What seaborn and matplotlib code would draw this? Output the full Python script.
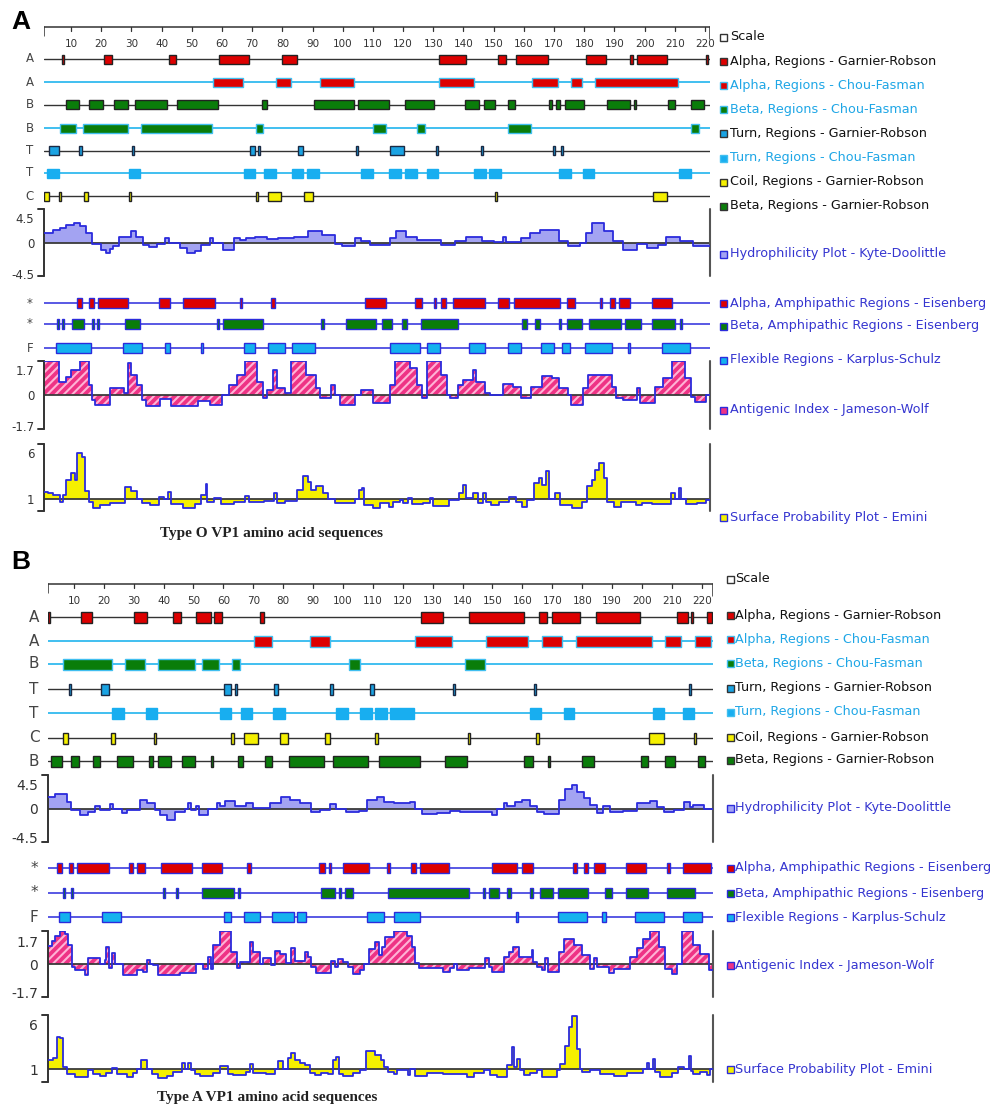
import numpy as np
import matplotlib
matplotlib.use("Agg")
import matplotlib.pyplot as plt
from matplotlib.patches import Rectangle
from matplotlib.transforms import Affine2D
import seaborn as sns

# ---------------- data (residue positions) ----------------
legend_labels = [
    "Scale",
    "Alpha, Regions - Garnier-Robson",
    "Alpha, Regions - Chou-Fasman",
    "Beta, Regions - Chou-Fasman",
    "Turn, Regions - Garnier-Robson",
    "Turn, Regions - Chou-Fasman",
    "Coil, Regions - Garnier-Robson",
    "Beta, Regions - Garnier-Robson",
    "Hydrophilicity Plot - Kyte-Doolittle",
    "Alpha, Amphipathic Regions - Eisenberg",
    "Beta, Amphipathic Regions - Eisenberg",
    "Flexible Regions - Karplus-Schulz",
    "Antigenic Index - Jameson-Wolf",
    "Surface Probability Plot - Emini",
]
a_row_letters = ["A", "A", "B", "B", "T", "T", "C"]
b_row_letters = ["A", "A", "B", "T", "T", "C", "B"]
lower_row_letters = ["*", "*", "F"]
titles = ["Type O VP1 amino acid sequences", "Type A VP1 amino acid sequences"]
scale_ticks = list(range(10, 221, 10))

# panel A (type O)
a_alpha_gr = [(7, 7.8), (21, 23.5), (42.4, 44.7), (59, 69), (80, 85), (132, 140.8), (151.5, 154),
              (157.3, 168.1), (180.5, 187.1), (195.3, 195.9), (197.4, 207.3), (220.3, 221)]
a_alpha_cf = [(57, 67), (78, 83), (92.4, 103.8), (132, 143.4), (162.6, 171.2), (175.7, 179.1), (183.6, 211.2)]
a_beta_gr = [(8.3, 12.7), (16.1, 20.6), (24.1, 28.9), (31.3, 41.9), (45, 58.7), (73.3, 74.9), (90.4, 103.8),
             (105, 115.2), (120.6, 130.2), (140.6, 145.2), (146.8, 150.4), (154.6, 157), (168.3, 169.4),
             (170.5, 172.1), (173.6, 179.9), (187.4, 195.2), (196.4, 197), (207.6, 210.1), (215.3, 219.8)]
a_beta_cf = [(6.3, 11.7), (14.1, 28.9), (33.3, 56.6), (71.4, 73.7), (109.9, 114.4), (124.6, 127.4),
             (154.6, 162.3), (215.5, 217.9)]
a_turn_gr = [(2.8, 6), (12.8, 13.4), (30.2, 30.8), (69.4, 71), (71.8, 72.6), (85.2, 86.9), (104.5, 105.1),
             (115.8, 120.4), (131, 131.6), (145.9, 146.5), (169.5, 170.1), (172.4, 173)]
a_turn_cf = [(2.1, 6.1), (29.2, 33), (67.2, 71), (73.9, 77.8), (83.2, 87), (88.3, 92.1), (106.1, 110),
             (115.5, 119.2), (120.6, 124.5), (127.8, 131.5), (143.5, 147.3), (148.5, 152.4), (171.6, 175.5),
             (179.5, 183.3), (211.3, 215.3)]
a_coil_gr = [(1.1, 2.7), (6.1, 6.6), (14.2, 15.7), (29.1, 29.6), (71.4, 71.9), (75.4, 79.7), (87.2, 90),
             (150.4, 150.9), (202.8, 207.5)]
a_alpha_amph = [(12.1, 13.7), (16.1, 17.7), (18.9, 28.8), (39.1, 42.7), (47.1, 57.8), (66.1, 66.7), (76.1, 77.7),
                (107.4, 114.4), (124, 126.2), (130.3, 130.9), (132.5, 134.2), (136.5, 147.2), (151.5, 155.1),
                (156.8, 172), (174.4, 177.1), (185.3, 185.9), (188.6, 190.2), (191.5, 195), (202.6, 209)]
a_beta_amph = [(5.3, 5.9), (7.1, 7.7), (10.2, 14.3), (16.8, 17.4), (18.6, 19.2), (28, 32.7), (58.4, 59),
               (60.2, 73.6), (92.7, 93.9), (101.1, 111), (112.9, 116.3), (119.8, 121.2), (126, 138.1),
               (159.4, 161.2), (163.6, 165.3), (171.6, 172.2), (174.4, 179.2), (181.6, 192.1), (193.5, 198.8),
               (202.6, 210.2), (211.6, 212.2)]
a_flexible = [(5, 16.5), (27.2, 33.5), (41.1, 42.7), (53.1, 53.7), (67.4, 71), (75.4, 81), (83.2, 90.8),
              (115.8, 125.6), (127.9, 132.3), (141.7, 147.2), (154.6, 159), (165.7, 170.1), (172.5, 175.2),
              (180.3, 189.1), (194.4, 195), (205.7, 215.1)]

a_hydro = [(1, 1.3), (4, 1.7), (6.5, 1.9), (8.5, 2.4), (11, 2.6), (13, 2.2), (15, 1.3), (17, -0.2), (20, -1.0),
           (21.5, -1.4), (23, -0.9), (24, -0.5), (26, 0.8), (30, 1.5), (31.5, 0.7), (34, -0.3), (36, -0.6),
           (38.5, -0.2), (41, 0.6), (42.5, -0.1), (46, -0.8), (48.5, -1.4), (51, -1.1), (53, -0.3), (56, 0.6),
           (57, -0.1), (60.5, -1.0), (64, 0.6), (66, 0.3), (68, 0.6), (71, 0.8), (75, 0.45), (78.5, 0.6),
           (84, 0.8), (88.5, 1.6), (93, 0.95), (97.5, -0.2), (99.7, -0.5), (104, 0.6), (106, 0.25),
           (108.9, -0.3), (115.8, 0.6), (117.7, 1.6), (121.1, 0.8), (124.6, 0.35), (132.4, -0.3), (137.3, 0.2),
           (141, 0.7), (146.2, 0.2), (150.1, 0.05), (153, 0.7), (154, 0.05), (158.9, 0.6), (161.9, 1.3),
           (165.3, 1.7), (171.7, 0.2), (174.7, -0.5), (178.7, -0.1), (180.6, 1.3), (182.6, 2.6), (186.6, 1.5),
           (189.5, 0.15), (193, -1.0), (197.4, -0.2), (200.8, -0.8), (204.3, -0.3), (207.2, 0.8),
           (211.7, 0.2), (216, -0.5)]
a_antigenic = [(1, 1.7), (6, 0.67), (8.5, 0.9), (10, 1.25), (13, 1.7), (16, 0.5), (17, -0.25), (18, -0.5),
               (23, 0.37), (27.5, 0.08), (29, 1.6), (30, 1.0), (32, 0.5), (33.5, -0.25), (35, -0.53),
               (39.5, -0.2), (43, -0.53), (52, -0.3), (56, -0.5), (60, 0.0), (62.5, 0.5), (65, 1.0), (67.5, 1.7),
               (71.6, 0.67), (73.5, -0.17), (75, 0.25), (77, 1.25), (78.3, 0.33), (81, 0.08), (83, 1.7),
               (88, 1.0), (91, 0.33), (92.5, -0.13), (96, 0.5), (97.5, 0.0), (99, -0.5), (104, 0.0), (106, 0.25),
               (109.9, -0.42), (115.8, 0.5), (117.4, 1.7), (122.4, 1.33), (124.6, 0.5), (126.2, -0.17),
               (127.8, 1.7), (132.4, 1.0), (134.4, 0.0), (135.4, -0.17), (138.3, 0.5), (139.9, 0.75),
               (143.3, 1.25), (144.3, 0.67), (147.2, 0.08), (148.8, 0.0), (153.1, 0.53), (156.4, 0.42),
               (159, -0.17), (162.5, 0.42), (165.9, 0.97), (169.3, 0.83), (171.8, 0.33), (174.7, 0.0),
               (175.7, -0.5), (179.6, 0.33), (181.3, 1.0), (189.1, 0.42), (190.5, -0.17), (193, -0.25),
               (197.4, 0.33), (198.4, -0.42), (203.3, 0.42), (206, 0.83), (209, 1.7), (213.4, 0.83),
               (215.5, -0.08), (216.6, -0.33), (220.5, 0.0)]
a_surface = [(1, 1.83), (2.4, 1.65), (4, 1.47), (6.3, 0.75), (7.4, 1.47), (8.5, 3.1), (10, 3.9), (11.3, 3.1),
             (12, 6.07), (13.5, 5.6), (14.7, 1.9), (15.8, 0.75), (17.4, 0.1), (19.7, 0.4), (23, 0.57), (28, 2.3),
             (30, 1.9), (32, 1.0), (33.5, 0.57), (36.3, 0.4), (39, 1.3), (40.8, 1.0), (42, 1.83), (43, 0.45),
             (47, 0.1), (51, 0.45), (53, 1.47), (54.7, 2.7), (55.2, 0.75), (57.4, 1.1), (59.6, 0.45), (64, 0.75),
             (67.5, 1.36), (69, 0.75), (74, 0.82), (77.4, 1.65), (78.3, 0.64), (80.8, 0.82), (84.7, 2.0),
             (87, 3.57), (88.4, 2.9), (89.6, 2.0), (91.3, 2.45), (93.6, 1.65), (95.2, 1.0), (97.5, 0.64),
             (104, 1.0), (105.5, 2.0), (106.3, 2.27), (107.2, 0.4), (110.2, 0.02), (112.4, 0.64), (115.2, 0.2),
             (116.8, 0.75), (119, 0.93), (120.1, 0.64), (121.7, 1.18), (122.9, 0.45), (126.6, 0.64),
             (128.8, 1.18), (130, 0.27), (135.3, 0.93), (138.5, 1.65), (139.8, 2.56), (140.9, 1.1),
             (143.1, 1.65), (144.7, 0.64), (146.4, 1.65), (147.5, 0.75), (149.1, 0.4), (151.9, 0.75),
             (155.1, 1.29), (157.3, 0.75), (159.5, 0.2), (161.1, 0.93), (163.4, 2.8), (165.1, 3.28),
             (166.1, 2.56), (167.2, 4.08), (168.3, 1.0), (170.4, 1.65), (172.1, 0.4), (176, 0.1), (179.2, 0.75),
             (181, 2.45), (182.6, 3.1), (183.7, 4.2), (184.8, 4.9), (186.5, 3.28), (187.6, 0.75), (189.8, 0.2),
             (192.1, 0.75), (197, 0.4), (199.2, 0.57), (202.6, 0.45), (208.8, 1.72), (210, 1.0), (211.3, 2.2),
             (212, 1.0), (213.8, 0.45), (217.2, 0.64), (220.5, 0.93)]

# panel B (type A)
b_alpha_gr = [(1.2, 2), (12.4, 15.9), (30.2, 34.6), (43, 45.8), (51, 55.7), (56.9, 59.7), (72.2, 73.6),
              (126, 133.4), (142, 160.4), (165.7, 168.2), (169.9, 179.3), (184.6, 199.4), (211.7, 215.4),
              (216.5, 217.2), (221.7, 223.4)]
b_alpha_cf = [(70.2, 76.3), (88.9, 95.5), (124.2, 136.4), (147.9, 162), (166.7, 173.2), (178, 203.3),
              (207.8, 213.1), (217.8, 223.2)]
b_beta_cf = [(6.5, 22.6), (27, 33.7), (38.2, 50.4), (52.9, 58.5), (62.9, 65.5), (102, 105.6), (140.9, 147.6)]
b_turn_gr = [(8.2, 8.8), (19, 21.8), (60.2, 62.4), (63.8, 64.4), (77, 78.3), (95.8, 96.4), (108.9, 110.4),
             (136.8, 137.5), (163.8, 164.4), (215.6, 216.2)]
b_turn_cf = [(22.9, 26.7), (34.1, 37.9), (58.8, 62.5), (65.8, 69.7), (76.6, 80.5), (97.8, 101.7),
             (105.7, 109.6), (110.8, 114.7), (115.8, 123.8), (162.4, 166.3), (173.8, 177.4), (203.6, 207.4),
             (213.6, 217.5)]
b_coil_gr = [(6.5, 7.9), (22.3, 23.7), (36.9, 37.6), (62.7, 63.3), (67, 71.6), (78.8, 81.6), (94.1, 95.5),
             (110.8, 111.6), (141.7, 142.3), (164.6, 165.4), (202.5, 207.2), (217.5, 218.1)]
b_beta_gr = [(2.3, 5.9), (9, 11.8), (16.3, 18.7), (24.3, 29.8), (35.1, 36.5), (38.2, 42.6), (46.2, 50.4),
             (55.7, 56.3), (65, 66.4), (74, 76.4), (82, 93.7), (96.7, 108.2), (112, 125.6), (134, 141.4),
             (160.7, 163.4), (168.5, 169.3), (179.9, 184.1), (199.7, 202), (207.8, 211.1), (218.6, 221.1)]
b_alpha_amph = [(4.2, 5.9), (8.4, 9.8), (11.2, 21.8), (28.4, 29.8), (31, 33.7), (39.1, 49.6), (52.9, 59.6),
                (68, 69.4), (92, 94.1), (95.3, 95.9), (100, 108.6), (114.7, 115.8), (122.7, 124.5),
                (125.8, 135.6), (150, 158.2), (160, 163.5), (176.8, 178.2), (180.7, 182.1), (183.8, 187.5),
                (194.6, 201.3), (208.5, 209.4), (213.7, 223.2)]
b_beta_amph = [(6.2, 6.8), (8.9, 9.5), (39.9, 40.5), (44, 44.6), (53, 63.6), (64.8, 65.4), (92.8, 97.2),
               (98.6, 99.2), (100.6, 103.3), (114.9, 142.3), (146.7, 147.3), (148.9, 152.3), (154.8, 156.3),
               (162.7, 163.3), (166, 170.1), (171.9, 182.1), (187.7, 189.9), (194.6, 202), (208.5, 217.8)]
b_flexible = [(5.1, 8.7), (19.3, 25.7), (60.1, 62.4), (66.9, 72.4), (76.1, 83.6), (84.7, 87.5), (108, 113.6),
              (116.9, 125.6), (157.7, 158.3), (171.9, 181.6), (186.6, 188), (197.7, 207.2), (213.7, 220)]

b_hydro = [(1.5, 1.6), (3.7, 2.0), (7.6, 0.9), (9, -0.15), (12, -0.9), (14.8, -0.45), (17, 0.3), (18.7, -0.2),
           (22, 0.6), (23, 0.0), (26, -0.6), (27.6, -0.15), (32, 1.2), (34.3, 0.7), (37, -0.2), (38.8, -0.9),
           (41, -1.5), (43.8, -0.45), (47, 0.0), (48.2, 0.7), (49.3, -0.15), (51, 0.3), (52, -0.85), (54.9, 0.0),
           (57.7, 0.7), (58.8, 0.3), (60.5, 1.0), (63.8, 0.3), (67.7, 0.7), (70, 0.1), (75.5, 0.7), (79.4, 1.5),
           (82.2, 1.2), (85.5, 0.7), (89.4, -0.45), (92.2, -0.2), (95.5, 0.6), (97.8, 0.0), (101, -0.45),
           (105.5, -0.3), (108, 1.1), (111.3, 1.6), (113.6, 0.9), (116.9, 0.7), (122.5, 0.9), (124.2, 0.0),
           (126.4, -0.7), (131.4, -0.6), (135.9, -0.3), (139.2, -0.45), (149.8, -0.9), (151.5, 0.0),
           (153.7, 0.7), (154.8, 0.3), (157.6, 0.9), (159.8, 1.1), (162.6, 0.3), (164.8, -0.45), (167.1, -0.7),
           (172.1, 1.1), (174.3, 2.6), (176.6, 3.15), (178.2, 2.25), (180.5, 1.35), (182.7, 0.45),
           (184.9, -0.6), (187.1, 0.3), (189.4, -0.45), (193.8, -0.3), (198.3, 0.7), (202.8, 1.0), (205, 0.2),
           (207.2, -0.45), (210.6, -0.15), (213.9, 0.9), (216.1, 0.2), (217.2, 0.45), (220.6, 0.0)]
b_antigenic = [(1.5, 0.92), (2.6, 1.2), (3.7, 1.42), (5.3, 1.68), (7, 1.53), (8.1, 0.97), (9.2, -0.14),
               (10.4, -0.3), (13.7, -0.56), (14.8, 0.29), (18.7, 0.0), (20.4, 0.2), (20.9, 0.88), (21.8, -0.22),
               (22.6, 0.58), (23.7, 0.0), (26.5, -0.56), (31, -0.3), (33.2, -0.39), (34.3, 0.2), (35.4, 0.0),
               (36.5, -0.05), (38.2, -0.56), (45.4, -0.47), (51, 0.0), (53.2, -0.27), (54.9, 0.34),
               (55.7, -0.27), (56.6, 0.97), (58.8, 1.68), (62.7, 0.63), (64.4, -0.22), (65.5, 0.12),
               (68.8, 1.14), (69.9, 0.63), (72.2, 0.0), (73.3, 0.29), (76, -0.05), (77.2, 0.68), (78.8, 0.54),
               (81.1, 0.03), (82.7, 0.8), (83.9, 0.17), (87.2, 0.63), (88.3, 0.37), (89.4, -0.14),
               (91.1, -0.47), (96.1, 0.17), (97.2, -0.14), (98.3, 0.24), (100, 0.12), (101.7, -0.14),
               (103.3, -0.5), (105.6, -0.3), (106.9, 0.0), (108.6, 0.75), (110.8, 1.14), (111.9, 0.46),
               (113, 0.88), (114.1, 1.39), (116.9, 1.68), (121.4, 1.42), (123, 0.88), (124.2, 0.03),
               (125.3, -0.22), (133.6, -0.39), (135.9, -0.22), (137, 0.0), (138.1, -0.3), (142, -0.22),
               (147.6, 0.29), (148.7, -0.14), (149.8, -0.39), (153.7, 0.34), (155.4, 0.63), (157, 0.88),
               (158.7, 0.37), (163.2, 0.71), (163.7, 0.12), (164.8, -0.14), (166.5, -0.3), (167.6, 0.29),
               (168.7, -0.39), (172.1, 0.63), (173.8, 1.3), (177.1, 0.97), (179.9, 0.46), (182.7, -0.27),
               (183.8, 0.29), (184.9, -0.14), (188.8, -0.47), (190.5, -0.27), (196.1, 0.37), (198.3, 0.8),
               (200.5, 1.3), (202.8, 1.68), (205.6, 0.88), (207.8, -0.27), (210, -0.5), (211.7, 0.0),
               (213.4, 1.68), (217.2, 0.97), (219.5, 0.54), (222.3, -0.3)]
b_surface = [(1.5, 1.98), (3.1, 2.27), (4.2, 4.54), (5.3, 4.47), (6.5, 1.25), (7.6, 0.45), (10.4, 0.16),
             (14.8, 0.96), (16.5, 0.45), (18.7, 0.24), (20.9, 0.53), (22.6, 1.18), (24.3, 0.45), (27.6, 0.16),
             (29.8, 0.53), (31, 1.0), (32.6, 2.06), (34.3, 1.0), (36, 0.45), (38.2, 0.0), (41, 0.24),
             (43.2, 0.71), (46, 1.7), (47.1, 1.0), (48.2, 1.7), (49.3, 0.96), (50.4, 0.45), (52.1, 0.24),
             (56.6, 0.6), (58.8, 1.33), (61.6, 0.45), (63.3, 0.35), (67.7, 0.71), (68.8, 1.55), (69.9, 0.6),
             (74.4, 0.45), (77.2, 1.07), (78.3, 1.9), (80, 1.0), (81.6, 2.27), (82.7, 2.82), (83.9, 2.06),
             (85.5, 1.7), (87.2, 1.44), (88.8, 0.53), (90.5, 0.35), (92.8, 0.6), (95, 0.45), (96.7, 1.98),
             (97.8, 2.35), (98.7, 0.45), (100, 0.24), (103.3, 0.6), (105.6, 0.96), (107.8, 3.0), (110.8, 2.53),
             (112.7, 2.06), (113.8, 1.25), (114.9, 0.71), (116.9, 0.45), (118, 0.96), (121.9, 0.35),
             (122.5, 1.0), (124.2, 0.24), (128.1, 0.53), (133.6, 0.45), (141.4, 0.16), (143.7, 0.53),
             (147, 0.96), (149.2, 0.35), (151.5, 0.16), (154.8, 1.44), (156.5, 3.45), (157.3, 1.25),
             (158.2, 2.17), (159.3, 0.96), (160.4, 0.35), (162.6, 0.6), (164.8, 0.96), (166.5, 0.16),
             (171.5, 0.89), (172.7, 1.62), (174.3, 3.52), (175.5, 5.64), (176.6, 6.9), (178.2, 3.26),
             (179.3, 1.0), (179.9, 0.71), (182.7, 0.89), (186, 0.45), (190.5, 0.24), (194.9, 0.53),
             (200.5, 1.0), (201.6, 1.7), (202.5, 1.0), (203.6, 2.17), (204.4, 0.71), (206.1, 0.16),
             (210, 0.53), (212.2, 1.25), (213.9, 1.0), (215.6, 2.42), (216.4, 0.82), (217.2, 0.45),
             (219.5, 0.71), (221.7, 0.35), (222.9, 1.0)]

# ---------------- styles ----------------
W, H = 999, 1108
RED, GREEN, YELLOW = "#dd0000", "#0a7d0a", "#f5f000"
TURN_GR, TURN_CF, FLEX = "#1aa3e3", "#18aef0", "#14b2ee"
HYD, PINK = "#a3a3f2", "#ee3385"
DARK, CFLINE, BLUE = "#333333", "#40bff0", "#2b2bdc"
TXT_BLACK, TXT_CF, TXT_BLUE = "#111111", "#1ea6e6", "#3535d0"

sns.set_theme(style="white")
plt.rcParams["font.family"] = ["DejaVu Sans"]
plt.rcParams["hatch.linewidth"] = 1.5

fig = plt.figure(figsize=(W / 100, H / 100), dpi=100)
fig.patch.set_facecolor("white")
pix = Affine2D().scale(1 / W, -1 / H).translate(0, 1) + fig.transFigure


def add_ax(x0, y0, x1, y1):
    ax = fig.add_axes([x0 / W, 1 - y1 / H, (x1 - x0) / W, (y1 - y0) / H])
    ax.set_facecolor("none")
    for sp in ax.spines.values():
        sp.set_visible(False)
    ax.grid(False)
    return ax


def draw_track(ax, y, segs, face, edge, line, line_w, h):
    ax.axhline(y, color=line, lw=line_w, zorder=2)
    for s, e in segs:
        w = max(e - s, 0.7)
        ax.add_patch(Rectangle((s, y - h / 2), w, h, facecolor=face, edgecolor=edge, lw=1.0, zorder=3))


def draw_ruler(ax, y, r0, r1, fs):
    ax.plot([r0, r1], [y, y], color=DARK, lw=1.1)
    ax.plot([r0, r0], [y, y + 9], color=DARK, lw=1.1)
    ax.plot([r1, r1], [y, y + 12], color=DARK, lw=1.1)
    for t in scale_ticks:
        ax.plot([t, t], [y, y + 4], color=DARK, lw=0.9)
        ax.text(t, y + 17, str(t), ha="center", va="center", fontsize=fs, color=DARK)


def draw_profile(box, r0, r1, data, ylim, base, fill, ticks, labels, fs, hatch=None, hatch_col="none"):
    ax = add_ax(*box)
    xs = np.array([p[0] for p in data] + [r1])
    ys = np.array([p[1] for p in data] + [data[-1][1]])
    ax.fill_between(xs, ys, base, step="post", facecolor=fill, edgecolor=hatch_col,
                    hatch=hatch, linewidth=0, zorder=1)
    sns.lineplot(x=xs, y=ys, drawstyle="steps-post", estimator=None, sort=False,
                 color=BLUE, lw=1.3, ax=ax, zorder=3)
    ax.axhline(base, color="#3a3a3a", lw=1.3, zorder=2)
    ax.set_xlim(r0, r1)
    ax.set_ylim(*ylim)
    ax.set_xlabel("")
    ax.set_ylabel("")
    ax.set_xticks([])
    ax.set_yticks(ticks, labels)
    ax.tick_params(axis="y", length=0, pad=7, labelsize=fs, labelcolor=DARK)
    kw = dict(transform=ax.transAxes, color=DARK, lw=1.4, clip_on=False)
    ax.plot([0, 0], [0, 1], **kw)
    ax.plot([-0.009, 0], [1, 1], **kw)
    ax.plot([-0.009, 0], [0, 0], **kw)
    ax.plot([1, 1], [0, 1], transform=ax.transAxes, color="#555555", lw=1.5, clip_on=False)
    return ax


def draw_legend(x_mark, x_text, ys):
    marks = [("white", DARK), (RED, DARK), (RED, CFLINE), (GREEN, CFLINE), (TURN_GR, DARK),
             (TURN_CF, CFLINE), (YELLOW, DARK), (GREEN, DARK), (HYD, BLUE), (RED, BLUE),
             (GREEN, BLUE), (FLEX, BLUE), (PINK, BLUE), (YELLOW, BLUE)]
    tcols = [TXT_BLACK, TXT_BLACK, TXT_CF, TXT_CF, TXT_BLACK, TXT_CF, TXT_BLACK, TXT_BLACK,
             TXT_BLUE, TXT_BLUE, TXT_BLUE, TXT_BLUE, TXT_BLUE, TXT_BLUE]
    for lab, y, (fc, ec), tc in zip(legend_labels, ys, marks, tcols):
        fig.add_artist(Rectangle((x_mark, y - 3.5), 7, 7, transform=pix, facecolor=fc,
                                 edgecolor=ec, lw=1.0))
        fig.text(x_text, y, lab, transform=pix, ha="left", va="center", fontsize=9.2, color=tc)


def draw_panel(p):
    ax = add_ax(p["x0"], p["y0"], p["x1"], p["y1"])
    ax.set_xlim(p["r0"], p["r1"])
    ax.set_ylim(p["y1"], p["y0"])
    ax.set_xticks([])
    ax.set_yticks([])
    draw_ruler(ax, p["ruler_y"], p["r0"], p["r1"], p["rfs"])
    h = p["box_h"]
    styles = {
        "alpha_gr": (RED, "#222222", DARK, 1.0),
        "alpha_cf": (RED, CFLINE, CFLINE, 1.4),
        "beta_gr": (GREEN, "#222222", DARK, 1.0),
        "beta_cf": (GREEN, CFLINE, CFLINE, 1.4),
        "turn_gr": (TURN_GR, "#1a2a44", DARK, 1.0),
        "turn_cf": (TURN_CF, TURN_CF, CFLINE, 1.4),
        "coil_gr": (YELLOW, "#222222", DARK, 1.0),
        "alpha_amph": (RED, BLUE, BLUE, 1.1),
        "beta_amph": (GREEN, BLUE, BLUE, 1.1),
        "flex": (FLEX, BLUE, BLUE, 1.1),
    }
    for (kind, segs), y, lab in zip(p["tracks"], p["rows"], p["letters"]):
        fc, ec, lc, lw = styles[kind]
        draw_track(ax, y, segs, fc, ec, lc, lw, h)
        fig.text(p["lab_x"], y, lab, transform=pix, ha="center", va="center",
                 fontsize=p["lab_fs"], color="#444444")
    for (kind, segs), y, lab in zip(p["lower"], p["lower_rows"], lower_row_letters):
        fc, ec, lc, lw = styles[kind]
        draw_track(ax, y, segs, fc, ec, lc, lw, 10)
        fig.text(p["lab_x"], y, lab, transform=pix, ha="center", va="center",
                 fontsize=p["lab_fs"], color="#444444")
    bx0, bx1 = p["x0"], p["x1"]
    fs = p["tick_fs"]
    hy = p["hydro_box"]
    draw_profile((bx0, hy[0], bx1, hy[1]), p["r0"], p["r1"], p["hydro"], (-4.5, 4.5), 0, HYD,
                 p["hydro_ticks"], ["4.5", "0", "-4.5"], fs)
    an = p["anti_box"]
    draw_profile((bx0, an[0], bx1, an[1]), p["r0"], p["r1"], p["anti"], (-1.7, 1.7), 0, PINK,
                 p["anti_ticks"], ["1.7", "0", "-1.7"], fs, hatch="////", hatch_col="#ffb3d6")
    su = p["surf_box"]
    draw_profile((bx0, su[0], bx1, su[1]), p["r0"], p["r1"], p["surf"], p["surf_lim"], 1, YELLOW,
                 [6, 1], ["6", "1"], fs)
    fig.text(11, p["letter_y"], p["letter"], transform=pix, ha="left", va="center", fontsize=19,
             fontweight="bold", family=["Liberation Sans", "DejaVu Sans"], color="black")
    fig.text(p["title_x"], p["title_y"], p["title"], transform=pix, ha="center", va="center",
             fontsize=11, fontweight="bold", family=["Liberation Serif", "DejaVu Serif"], color="#222222")
    draw_legend(p["mark_x"], p["text_x"], p["legend_y"])


panel_a = dict(
    x0=44, x1=710, y0=0, y1=560, r0=1.06, r1=221.66, ruler_y=27, rfs=7.5, box_h=9,
    rows=[59, 82, 104.5, 128, 150.5, 173, 196], letters=a_row_letters,
    tracks=[("alpha_gr", a_alpha_gr), ("alpha_cf", a_alpha_cf), ("beta_gr", a_beta_gr),
            ("beta_cf", a_beta_cf), ("turn_gr", a_turn_gr), ("turn_cf", a_turn_cf), ("coil_gr", a_coil_gr)],
    lower=[("alpha_amph", a_alpha_amph), ("beta_amph", a_beta_amph), ("flex", a_flexible)],
    lower_rows=[303, 324, 348], lab_x=30, lab_fs=8.5, tick_fs=8.5,
    hydro=a_hydro, hydro_box=(209, 276), hydro_ticks=[3.29, 0, -4.23],
    anti=a_antigenic, anti_box=(361, 429), anti_ticks=[1.25, 0, -1.55],
    surf=a_surface, surf_box=(444, 511), surf_lim=(-0.27, 7.0),
    letter="A", letter_y=22, title=titles[0], title_x=272, title_y=533,
    mark_x=720, text_x=730, legend_y=[37, 61, 85, 109, 133, 158, 182, 206, 254, 303, 326, 360, 410, 517],
)
panel_b = dict(
    x0=47.7, x1=713, y0=560, y1=1108, r0=1.24, r1=223.75, ruler_y=584, rfs=7.5, box_h=11,
    rows=[617, 641, 664, 689, 713, 738, 761], letters=b_row_letters,
    tracks=[("alpha_gr", b_alpha_gr), ("alpha_cf", b_alpha_cf), ("beta_cf", b_beta_cf),
            ("turn_gr", b_turn_gr), ("turn_cf", b_turn_cf), ("coil_gr", b_coil_gr), ("beta_gr", b_beta_gr)],
    lower=[("alpha_amph", b_alpha_amph), ("beta_amph", b_beta_amph), ("flex", b_flexible)],
    lower_rows=[868, 893, 917], lab_x=34, lab_fs=11, tick_fs=10,
    hydro=b_hydro, hydro_box=(775, 842), hydro_ticks=[3.16, 0, -3.96],
    anti=b_antigenic, anti_box=(931, 997), anti_ticks=[1.18, 0, -1.49],
    surf=b_surface, surf_box=(1015, 1082), surf_lim=(-0.42, 7.0),
    letter="B", letter_y=562, title=titles[1], title_x=267, title_y=1097,
    mark_x=727, text_x=735, legend_y=[579, 615, 639, 663, 688, 712, 737, 760, 808, 868, 893, 917, 965, 1069],
)

draw_panel(panel_a)
draw_panel(panel_b)

fig.savefig("out.png", dpi=100, facecolor="white")
